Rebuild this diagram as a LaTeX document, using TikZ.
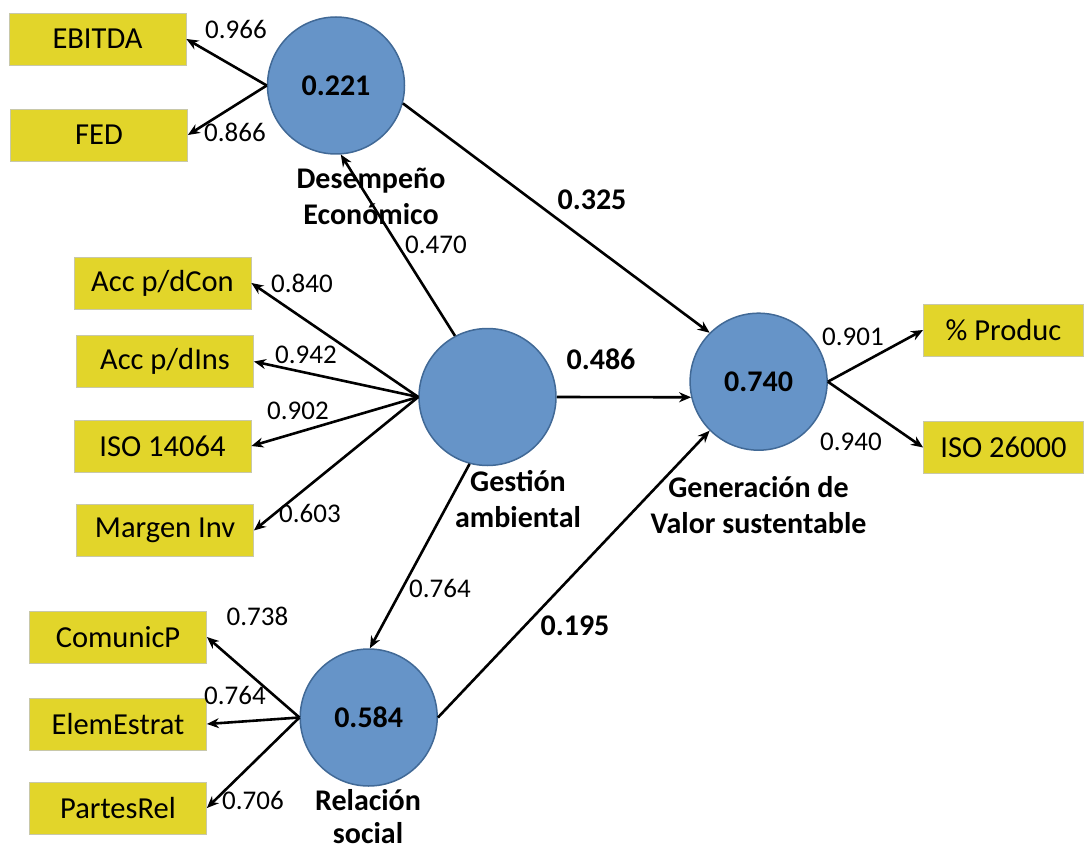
\documentclass[tikz,border=0pt]{standalone}
\usepackage{fontspec}
\setmainfont{Carlito}
\usetikzlibrary{arrows.meta}
\definecolor{lvfill}{RGB}{102,148,200}
\definecolor{lvdraw}{RGB}{65,105,150}
\definecolor{mvfill}{RGB}{226,213,42}
\definecolor{mvdraw}{RGB}{200,200,170}
\tikzset{
  lv/.style={circle,fill=lvfill,draw=lvdraw,line width=1.5pt,minimum size=137pt,inner sep=0pt,font=\fontsize{30}{36}\selectfont\bfseries},
  mv/.style={rectangle,fill=mvfill,draw=mvdraw,line width=0.8pt,minimum width=177pt,minimum height=52pt,inner sep=0pt,font=\fontsize{30.5}{36}\selectfont},
  lbl/.style={font=\fontsize{27}{32}\selectfont,inner sep=0pt},
  blbl/.style={font=\fontsize{30}{36}\selectfont\bfseries,inner sep=0pt},
  lvname/.style={font=\fontsize{30}{36}\selectfont\bfseries,align=center,inner sep=0pt},
  arr/.style={line width=2.6pt,-{Stealth[length=12pt,width=10pt]}}
}
\begin{document}
\begin{tikzpicture}[x=1pt,y=-1pt]
\useasboundingbox (0,0) rectangle (1090,848);
% latent variables
\node[lv] (des) at (336,85.5) {0.221};
\node[lv] (gest) at (487.5,397) {};
\node[lv] (gen) at (758.6,381.7) {0.740};
\node[lv] (rel) at (368.7,717.5) {0.584};
% indicators
\node[mv] (ebitda) at (97.5,39) {EBITDA};
\node[mv] (fed) at (99,135) {FED};
\node[mv] (acon) at (162.5,283) {Acc p/dCon};
\node[mv] (ains) at (165,361.5) {Acc p/dIns};
\node[mv] (iso1) at (162.5,446) {ISO 14064};
\node[mv] (marg) at (165,530.5) {Margen Inv};
\node[mv] (com) at (118,637) {ComunicP};
\node[mv] (elem) at (118,724) {ElemEstrat};
\node[mv] (part) at (118,808) {PartesRel};
\node[mv,minimum width=160pt] (prod) at (1003.5,330) {\% Produc};
\node[mv,minimum width=160pt] (iso2) at (1003.5,447.5) {ISO 26000};
% names
\node[lvname] (ndes) at (371,196) {Desempeño\\Económico};
\node[lvname] (ngest) at (518,499) {Gestión\\ambiental};
\node[lvname] (ngen) at (758.5,505) {Generación de\\Valor sustentable};
\node[lvname,font=\fontsize{30}{33}\selectfont\bfseries] (nrel) at (368,817) {Relación\\social};
% outer loadings
\draw[arr] (des.west) -- (ebitda.east);
\draw[arr] (des.west) -- (fed.east);
\draw[arr] (gest.west) -- (acon.east);
\draw[arr] (gest.west) -- (ains.east);
\draw[arr] (gest.west) -- (iso1.east);
\draw[arr] (gest.west) -- (marg.east);
\draw[arr] (rel.west) -- (com.east);
\draw[arr] (rel.west) -- (elem.east);
\draw[arr] (rel.west) -- (part.east);
\draw[arr] (gen.east) -- (prod.west);
\draw[arr] (gen.east) -- (iso2.west);
% paths
\draw[arr] (gest.118) -- (des.-86);
\draw[arr] (gest.-105) -- (rel.89);
\draw[arr] (gest.0) -- (gen.193);
\draw[arr] (des.-15) -- (gen.135);
\draw[arr] (rel.0) -- (gen.225);
% labels
\node[lbl] (l1) at (236,29) {0.966};
\node[lbl] (l2) at (235,132) {0.866};
\node[lbl] (l3) at (436,245) {0.470};
\node[lbl] (l4) at (302,283) {0.840};
\node[lbl] (l5) at (306,355) {0.942};
\node[lbl] (l6) at (298,411) {0.902};
\node[lbl] (l7) at (310,513) {0.603};
\node[lbl] (l8) at (440,588) {0.764};
\node[lbl] (l9) at (257.5,616) {0.738};
\node[lbl] (l10) at (235,695) {0.764};
\node[lbl] (l11) at (253,800) {0.706};
\node[lbl] (l12) at (853,337) {0.901};
\node[lbl] (l13) at (851,442) {0.940};
\node[blbl] (b1) at (592,200) {0.325};
\node[blbl] (b2) at (601,359) {0.486};
\node[blbl] (b3) at (575,626) {0.195};
\end{tikzpicture}
\end{document}
